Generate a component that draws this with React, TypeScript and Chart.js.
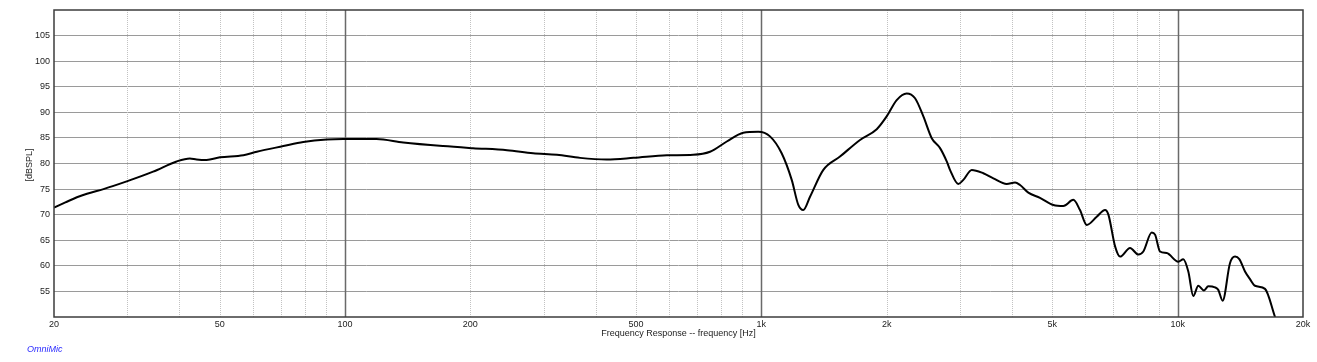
import { useEffect, useRef } from 'react';
import { Chart, registerables } from 'chart.js';

Chart.register(...registerables);

// Frequency (Hz) and level (dB SPL)
const FREQ_HZ = [
  20, 21.3, 22.7, 24.0, 26.3, 29.9, 34.6, 39.4, 42.4, 44.0, 46.5, 50.1, 57.0, 61.4, 71.1, 79.4, 90.4, 99,
  119, 138, 172, 203, 245, 283, 323, 367, 425, 493, 593, 686, 753, 826, 905, 983,
  1049, 1119, 1183, 1227, 1261, 1309, 1409, 1545, 1726, 1893, 2000, 2114, 2234, 2340, 2450, 2566,
  2687, 2788, 2839, 2972, 3056, 3202, 3413, 3608, 3885, 4068, 4182, 4378, 4670, 5029, 5314, 5616,
  5826, 6047, 6392, 6692, 6817, 7074, 7272, 7684, 8044, 8270, 8664, 8824, 9070, 9412, 10034, 10316,
  10606, 10902, 11208, 11566, 11844, 12290, 12518, 12826, 13354, 13732, 14062, 14512, 14920, 15338,
  16210, 17134, 17400,
];
const SPL_DB = [
  71.4, 72.4, 73.4, 74.1, 75.0, 76.5, 78.4, 80.4, 81.0, 80.8, 80.7, 81.2, 81.6, 82.3, 83.4, 84.2, 84.7, 84.8,
  84.8, 84.1, 83.4, 83.0, 82.6, 82.0, 81.7, 81.1, 80.8, 81.1, 81.6, 81.7, 82.3, 84.3, 86.0, 86.2,
  85.3, 82.0, 76.8, 71.9, 70.9, 73.5, 78.75, 81.35, 84.6, 86.7, 89.2, 92.4, 93.7, 92.75, 89.2, 84.95,
  83.0, 80.4, 78.75, 76.0, 76.8, 78.75, 78.1, 77.1, 76.0, 76.3, 75.8, 74.3, 73.3, 71.9, 71.7, 72.9,
  70.9, 68.0, 69.6, 70.9, 70.0, 63.8, 61.8, 63.5, 62.2, 62.8, 66.5, 66.1, 62.8, 62.5, 60.8, 61.3,
  58.9, 54.1, 56.1, 55.2, 56.0, 55.8, 55.3, 53.2, 60.5, 61.8, 61.3, 58.9, 57.4, 56.1,
  55.5, 50.0, 48.5,
];

// Axis ticks
const GRID_FREQS = [
  20, 30, 40, 50, 60, 70, 80, 90, 100, 200, 300, 400, 500, 600, 700, 800, 900,
  1000, 2000, 3000, 4000, 5000, 6000, 7000, 8000, 9000, 10000, 20000,
];
const MAJOR_FREQS = [100, 1000, 10000];
const X_LABEL_VALUES = [20, 50, 100, 200, 500, 1000, 2000, 5000, 10000, 20000];
const X_LABEL_TEXT = ['20', '50', '100', '200', '500', '1k', '2k', '5k', '10k', '20k'];
const Y_TICKS = [55, 60, 65, 70, 75, 80, 85, 90, 95, 100, 105];

const X_TITLE = 'Frequency Response -- frequency [Hz]';
const Y_TITLE = '[dBSPL]';
const BRAND = 'OmniMic';

const FONT = '"Liberation Sans", Arial, sans-serif';

const framePlugin = {
  id: 'frame',
  beforeDatasetsDraw(chart: any) {
    const { ctx, chartArea, scales } = chart;
    const { left, right, top, bottom } = chartArea;
    const x = scales.x;
    ctx.save();
    for (const f of GRID_FREQS) {
      const px = Math.round(x.getPixelForValue(f)) + 0.5;
      if (px <= left + 1 || px >= right - 1) continue;
      const major = MAJOR_FREQS.includes(f);
      ctx.beginPath();
      ctx.strokeStyle = major ? '#6a6a6a' : '#c2c2c2';
      ctx.lineWidth = major ? 1.5 : 1;
      ctx.setLineDash(major ? [] : [1, 1]);
      ctx.moveTo(px, top);
      ctx.lineTo(px, bottom);
      ctx.stroke();
    }
    ctx.restore();
  },
  afterDraw(chart: any) {
    const { ctx, chartArea } = chart;
    const { left, right, top, bottom } = chartArea;
    ctx.save();
    ctx.strokeStyle = '#3c3c3c';
    ctx.lineWidth = 1.5;
    ctx.setLineDash([]);
    ctx.strokeRect(left, top, right - left, bottom - top);

    ctx.fillStyle = '#222';
    ctx.font = `9px ${FONT}`;
    ctx.textAlign = 'center';
    ctx.textBaseline = 'middle';
    ctx.fillText(X_TITLE, (left + right) / 2, 334);

    ctx.save();
    ctx.translate(30, 165);
    ctx.rotate(-Math.PI / 2);
    ctx.fillText(Y_TITLE, 0, 0);
    ctx.restore();

    ctx.fillStyle = '#2b2bff';
    ctx.font = `italic 9px ${FONT}`;
    ctx.textAlign = 'left';
    ctx.fillText(BRAND, 27, 349);
    ctx.restore();
  },
};

export default function App() {
  const canvasRef = useRef<HTMLCanvasElement | null>(null);

  useEffect(() => {
    if (!canvasRef.current) return;
    const points = FREQ_HZ.map((f, i) => ({ x: f, y: SPL_DB[i] }));
    const chart = new Chart(canvasRef.current, {
      type: 'line',
      data: {
        datasets: [
          {
            data: points,
            borderColor: '#000',
            borderWidth: 2,
            pointRadius: 0,
            cubicInterpolationMode: 'monotone',
            fill: false,
          },
        ],
      },
      options: {
        responsive: false,
        animation: false,
        devicePixelRatio: 1,
        layout: { padding: { top: 10, right: 14, left: 0, bottom: 0 } },
        plugins: {
          legend: { display: false },
          tooltip: { enabled: false },
        },
        scales: {
          x: {
            type: 'logarithmic',
            min: 20,
            max: 20000,
            border: { display: false },
            grid: { display: false, drawTicks: false },
            afterBuildTicks: (scale: any) => {
              scale.ticks = GRID_FREQS.map((v) => ({ value: v }));
            },
            afterFit: (scale: any) => {
              scale.height = 45;
            },
            ticks: {
              autoSkip: false,
              maxRotation: 0,
              minRotation: 0,
              padding: 2,
              color: '#222',
              font: { family: FONT, size: 9 },
              callback: (value: any) => {
                const idx = X_LABEL_VALUES.indexOf(Number(value));
                return idx >= 0 ? X_LABEL_TEXT[idx] : '';
              },
            },
          },
          y: {
            type: 'linear',
            min: 50,
            max: 110,
            border: { display: false },
            grid: { color: '#9a9a9a', lineWidth: 1, drawTicks: false },
            afterBuildTicks: (scale: any) => {
              scale.ticks = Y_TICKS.map((v) => ({ value: v }));
            },
            afterFit: (scale: any) => {
              scale.width = 54;
            },
            ticks: {
              padding: 4,
              color: '#222',
              font: { family: FONT, size: 9 },
              callback: (value: any) => String(value),
            },
          },
        },
      },
      plugins: [framePlugin],
    } as any);
    return () => chart.destroy();
  }, []);

  return (
    <div style={{ position: 'fixed', left: 0, top: 0, width: 1317, height: 362, background: '#fff' }}>
      <canvas ref={canvasRef} width={1317} height={362} />
    </div>
  );
}
